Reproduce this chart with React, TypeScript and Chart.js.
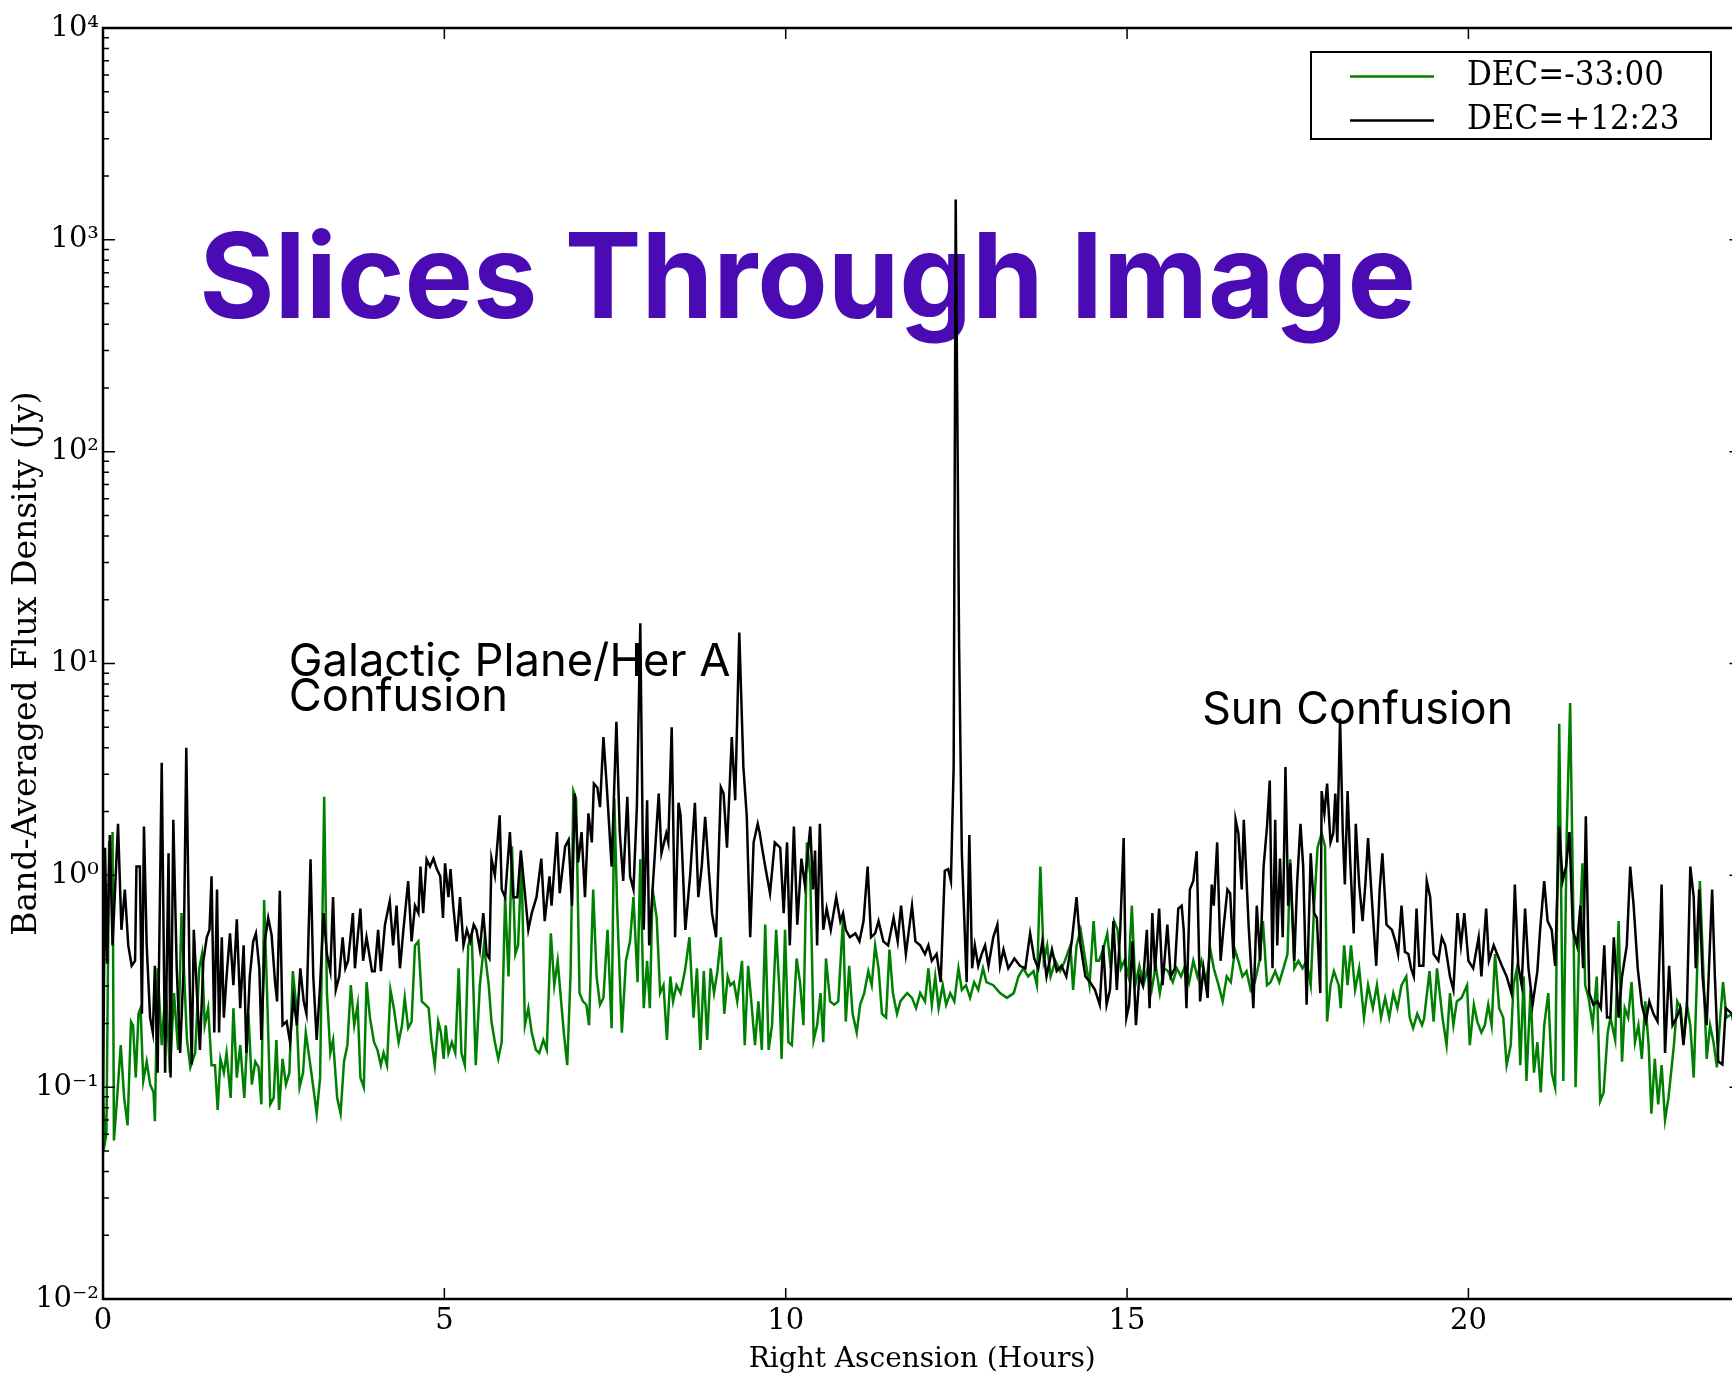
import React, { useEffect, useRef } from 'react';
import { Chart, registerables } from 'chart.js';

Chart.register(...registerables);

// ---------------- data ----------------
const seriesLabels = ['DEC=-33:00', 'DEC=+12:23'];
const seriesColors = ['#008000', '#000000'];

const xTickValues = [0, 5, 10, 15, 20];
const yTickValues = [0.01, 0.1, 1, 10, 100, 1000, 10000];
const yTickLabels = ['10⁻²', '10⁻¹', '10⁰', '10¹', '10²', '10³', '10⁴'];

const titleText = 'Slices Through Image';
const xTitle = 'Right Ascension (Hours)';
const yTitle = 'Band-Averaged Flux Density (Jy)';

const noteGalactic = ['Galactic Plane/Her A', 'Confusion'];
const noteSun = ['Sun Confusion'];

// [RA hours, flux Jy]
const greenSlice: [number, number][] = [
  [0.00,0.09],[0.03,0.055],[0.05,0.06],[0.09,1.45],[0.12,0.9],[0.14,1.6],[0.16,0.056],[0.20,0.083],[0.26,0.158],[0.31,0.089],[0.36,0.066],[0.41,0.204],[0.44,0.196],[0.48,0.111],[0.52,0.222],[0.55,0.236],[0.59,0.107],[0.64,0.132],[0.69,0.103],[0.74,0.0945],[0.76,0.069],[0.80,0.364],[0.86,0.158],[0.92,0.303],[0.98,0.117],[1.04,0.278],[1.10,0.15],[1.15,0.663],[1.23,0.167],[1.28,0.124],[1.35,0.145],[1.41,0.364],[1.45,0.425],[1.49,0.196],[1.54,0.236],[1.59,0.127],[1.64,0.127],[1.68,0.078],[1.72,0.136],[1.77,0.117],[1.81,0.145],[1.87,0.089],[1.91,0.236],[1.96,0.111],[2.01,0.158],[2.07,0.089],[2.13,0.222],[2.18,0.103],[2.23,0.132],[2.28,0.124],[2.32,0.083],[2.36,0.765],[2.40,0.303],[2.45,0.083],[2.50,0.089],[2.54,0.167],[2.58,0.078],[2.63,0.136],[2.68,0.103],[2.73,0.117],[2.78,0.353],[2.83,0.245],[2.88,0.1],[2.93,0.117],[2.97,0.181],[3.03,0.132],[3.08,0.1],[3.13,0.075],[3.18,0.111],[3.24,2.35],[3.28,0.278],[3.33,0.145],[3.37,0.167],[3.43,0.089],[3.48,0.075],[3.53,0.132],[3.58,0.158],[3.63,0.303],[3.68,0.196],[3.73,0.245],[3.77,0.111],[3.82,0.1],[3.86,0.313],[3.91,0.213],[3.97,0.163],[4.02,0.15],[4.07,0.127],[4.11,0.145],[4.16,0.127],[4.21,0.288],[4.26,0.236],[4.33,0.163],[4.38,0.196],[4.42,0.264],[4.47,0.19],[4.52,0.204],[4.57,0.467],[4.62,0.488],[4.67,0.254],[4.72,0.245],[4.77,0.236],[4.81,0.167],[4.86,0.127],[4.91,0.204],[4.95,0.181],[4.99,0.136],[5.02,0.196],[5.06,0.145],[5.11,0.163],[5.16,0.145],[5.21,0.364],[5.25,0.145],[5.30,0.127],[5.35,0.467],[5.40,0.532],[5.46,0.127],[5.52,0.303],[5.58,0.467],[5.65,0.303],[5.69,0.204],[5.74,0.163],[5.79,0.136],[5.84,0.163],[5.89,0.789],[5.94,0.333],[5.99,1.37],[6.04,0.425],[6.08,0.467],[6.13,1.19],[6.18,0.196],[6.23,0.236],[6.28,0.181],[6.34,0.15],[6.39,0.145],[6.45,0.167],[6.50,0.15],[6.56,0.532],[6.61,0.303],[6.66,0.395],[6.70,0.278],[6.75,0.181],[6.80,0.127],[6.85,0.353],[6.89,2.5],[6.93,2.3],[6.98,0.278],[7.03,0.254],[7.08,0.245],[7.12,0.196],[7.18,0.857],[7.23,0.333],[7.28,0.245],[7.33,0.264],[7.39,0.553],[7.45,0.19],[7.49,2.3],[7.53,0.719],[7.60,0.181],[7.66,0.395],[7.72,0.488],[7.77,0.789],[7.83,0.313],[7.87,1.19],[7.92,0.236],[7.97,0.395],[8.01,0.236],[8.05,0.857],[8.11,0.63],[8.16,0.278],[8.21,0.303],[8.26,0.167],[8.31,0.333],[8.35,0.254],[8.40,0.303],[8.46,0.278],[8.53,0.364],[8.59,0.51],[8.65,0.213],[8.70,0.364],[8.75,0.15],[8.80,0.353],[8.85,0.167],[8.90,0.364],[8.95,0.278],[9.00,0.353],[9.05,0.51],[9.10,0.222],[9.15,0.333],[9.19,0.303],[9.24,0.313],[9.29,0.254],[9.36,0.395],[9.40,0.158],[9.45,0.374],[9.50,0.245],[9.55,0.158],[9.60,0.254],[9.65,0.15],[9.70,0.585],[9.75,0.15],[9.80,0.196],[9.86,0.553],[9.91,0.278],[9.94,0.136],[9.99,0.553],[10.04,0.163],[10.09,0.158],[10.16,0.405],[10.21,0.313],[10.26,0.196],[10.31,1.43],[10.36,1.0],[10.41,0.167],[10.46,0.196],[10.51,0.278],[10.55,0.163],[10.59,0.405],[10.65,0.254],[10.71,0.245],[10.77,0.254],[10.84,0.63],[10.88,0.204],[10.93,0.374],[10.98,0.222],[11.04,0.181],[11.09,0.245],[11.15,0.278],[11.21,0.353],[11.26,0.303],[11.31,0.467],[11.36,0.364],[11.41,0.222],[11.47,0.213],[11.52,0.446],[11.57,0.278],[11.63,0.222],[11.68,0.254],[11.72,0.264],[11.78,0.278],[11.85,0.264],[11.91,0.236],[11.97,0.278],[12.04,0.254],[12.09,0.364],[12.14,0.245],[12.19,0.333],[12.24,0.236],[12.30,0.303],[12.35,0.245],[12.41,0.278],[12.47,0.254],[12.53,0.364],[12.58,0.288],[12.64,0.303],[12.70,0.264],[12.76,0.313],[12.82,0.288],[12.89,0.364],[12.94,0.313],[13.04,0.303],[13.14,0.278],[13.24,0.264],[13.34,0.278],[13.41,0.333],[13.48,0.364],[13.55,0.333],[13.63,0.353],[13.68,0.303],[13.73,1.1],[13.78,0.395],[13.83,0.467],[13.88,0.333],[13.95,0.395],[14.02,0.353],[14.09,0.395],[14.17,0.467],[14.21,0.288],[14.26,0.467],[14.32,0.553],[14.39,0.395],[14.45,0.303],[14.51,0.608],[14.55,0.395],[14.59,0.395],[14.65,0.446],[14.71,0.532],[14.76,0.364],[14.81,0.608],[14.86,0.553],[14.91,0.364],[14.96,0.395],[15.02,0.333],[15.07,0.719],[15.12,0.303],[15.18,0.374],[15.24,0.303],[15.30,0.364],[15.36,0.288],[15.42,0.374],[15.48,0.278],[15.54,0.364],[15.60,0.353],[15.67,0.313],[15.73,0.364],[15.79,0.333],[15.85,0.374],[15.91,0.313],[15.97,0.395],[16.03,0.333],[16.09,0.395],[16.16,0.313],[16.22,0.446],[16.27,0.364],[16.34,0.303],[16.40,0.254],[16.46,0.333],[16.52,0.313],[16.58,0.446],[16.63,0.395],[16.69,0.333],[16.75,0.353],[16.81,0.288],[16.87,0.313],[16.94,0.395],[16.99,0.608],[17.05,0.303],[17.10,0.313],[17.17,0.353],[17.23,0.313],[17.29,0.364],[17.35,0.425],[17.39,1.19],[17.45,0.364],[17.51,0.395],[17.57,0.364],[17.63,0.395],[17.69,0.303],[17.74,0.719],[17.79,1.35],[17.85,1.58],[17.90,1.37],[17.93,0.204],[17.98,0.303],[18.03,0.353],[18.10,0.303],[18.13,0.236],[18.18,0.467],[18.23,0.303],[18.28,0.467],[18.34,0.288],[18.40,0.364],[18.47,0.213],[18.53,0.303],[18.60,0.236],[18.66,0.303],[18.72,0.213],[18.78,0.264],[18.84,0.213],[18.90,0.278],[18.96,0.236],[19.02,0.303],[19.09,0.333],[19.14,0.213],[19.19,0.19],[19.25,0.222],[19.32,0.196],[19.35,0.21],[19.43,0.353],[19.49,0.204],[19.54,0.364],[19.62,0.213],[19.68,0.158],[19.73,0.278],[19.78,0.196],[19.83,0.254],[19.90,0.264],[19.98,0.303],[20.02,0.158],[20.08,0.245],[20.13,0.204],[20.19,0.181],[20.24,0.196],[20.29,0.245],[20.34,0.196],[20.39,0.425],[20.45,0.236],[20.51,0.213],[20.56,0.127],[20.62,0.158],[20.66,0.303],[20.71,0.364],[20.76,0.127],[20.81,0.333],[20.85,0.107],[20.91,0.288],[20.96,0.117],[21.01,0.163],[21.06,0.0945],[21.11,0.196],[21.17,0.278],[21.22,0.117],[21.27,0.1],[21.33,5.2],[21.39,0.107],[21.44,1.58],[21.49,6.5],[21.54,0.553],[21.57,0.1],[21.62,0.467],[21.67,1.14],[21.71,0.303],[21.76,0.264],[21.82,0.196],[21.88,0.333],[21.93,0.086],[21.98,0.0945],[22.04,0.181],[22.08,0.213],[22.15,0.167],[22.20,0.608],[22.25,0.132],[22.29,0.236],[22.34,0.213],[22.39,0.313],[22.44,0.163],[22.49,0.196],[22.54,0.136],[22.59,0.254],[22.64,0.158],[22.68,0.075],[22.73,0.136],[22.78,0.083],[22.83,0.127],[22.88,0.07],[22.93,0.089],[22.98,0.127],[23.01,0.158],[23.06,0.254],[23.11,0.236],[23.15,0.163],[23.20,0.245],[23.25,0.196],[23.30,0.111],[23.34,0.278],[23.39,0.94],[23.44,0.364],[23.49,0.136],[23.54,0.196],[23.59,0.163],[23.64,0.124],[23.68,0.196],[23.73,0.313],[23.78,0.213],[23.86,0.222],[23.95,0.19]
];

const blackSlice: [number, number][] = [
  [0.00,0.08],[0.03,1.35],[0.06,0.383],[0.10,1.55],[0.14,0.467],[0.22,1.75],[0.27,0.553],[0.32,0.857],[0.37,0.467],[0.42,0.374],[0.47,0.395],[0.49,1.10],[0.54,1.10],[0.57,0.222],[0.60,1.70],[0.64,0.467],[0.69,0.213],[0.73,0.181],[0.76,0.374],[0.80,0.117],[0.86,3.4],[0.91,0.117],[0.96,1.27],[0.99,0.111],[1.03,1.83],[1.08,0.364],[1.13,0.145],[1.18,0.364],[1.22,4.0],[1.27,0.303],[1.30,0.128],[1.33,0.553],[1.37,0.303],[1.42,0.15],[1.47,0.395],[1.52,0.51],[1.56,0.553],[1.59,0.99],[1.63,0.181],[1.67,0.857],[1.70,0.181],[1.74,0.51],[1.77,0.213],[1.81,0.333],[1.86,0.532],[1.91,0.303],[1.96,0.62],[2.01,0.236],[2.06,0.467],[2.10,0.145],[2.15,0.333],[2.20,0.488],[2.24,0.532],[2.29,0.364],[2.32,0.167],[2.37,0.488],[2.42,0.63],[2.47,0.522],[2.52,0.313],[2.55,0.254],[2.59,0.846],[2.63,0.196],[2.69,0.204],[2.74,0.163],[2.79,0.264],[2.84,0.196],[2.89,0.364],[2.94,0.254],[2.98,0.222],[3.04,1.19],[3.08,0.333],[3.13,0.167],[3.18,0.303],[3.23,0.663],[3.28,0.425],[3.33,0.353],[3.37,0.789],[3.41,0.288],[3.46,0.333],[3.51,0.51],[3.55,0.364],[3.59,0.395],[3.66,0.663],[3.69,0.364],[3.73,0.51],[3.77,0.697],[3.81,0.395],[3.86,0.51],[3.94,0.353],[3.98,0.353],[4.03,0.553],[4.07,0.353],[4.13,0.585],[4.20,0.754],[4.25,0.467],[4.30,0.719],[4.35,0.364],[4.40,0.553],[4.47,0.94],[4.52,0.488],[4.57,0.719],[4.62,0.663],[4.65,1.10],[4.69,0.663],[4.74,1.19],[4.79,1.10],[4.84,1.20],[4.89,1.07],[4.94,0.99],[4.98,0.63],[5.01,1.14],[5.06,0.789],[5.09,1.07],[5.13,0.719],[5.18,0.488],[5.23,0.789],[5.28,0.467],[5.33,0.553],[5.38,0.488],[5.43,0.585],[5.47,0.553],[5.52,0.446],[5.57,0.663],[5.62,0.425],[5.66,0.405],[5.69,1.20],[5.74,1.0],[5.81,1.92],[5.84,0.857],[5.89,0.789],[5.96,1.60],[6.01,0.789],[6.07,0.789],[6.12,1.31],[6.18,0.823],[6.23,0.553],[6.28,0.663],[6.35,0.789],[6.42,1.20],[6.47,0.608],[6.54,0.99],[6.57,0.719],[6.65,1.60],[6.69,0.823],[6.77,1.37],[6.82,1.47],[6.87,0.719],[6.91,2.43],[6.96,1.15],[7.01,1.60],[7.06,0.789],[7.11,1.96],[7.16,1.43],[7.19,2.71],[7.24,2.60],[7.28,2.10],[7.33,4.5],[7.38,2.60],[7.45,1.10],[7.52,5.3],[7.57,1.58],[7.62,0.94],[7.68,2.35],[7.72,0.99],[7.77,0.857],[7.82,2.10],[7.87,15.5],[7.92,0.553],[7.97,2.26],[8.00,0.467],[8.05,0.857],[8.14,2.43],[8.18,1.27],[8.25,1.58],[8.28,1.43],[8.33,5.0],[8.38,0.51],[8.43,2.20],[8.46,1.92],[8.53,0.553],[8.60,1.0],[8.67,2.20],[8.72,0.789],[8.77,1.10],[8.82,1.89],[8.87,1.10],[8.92,0.663],[8.98,0.51],[9.05,2.6],[9.09,2.43],[9.14,1.35],[9.21,4.5],[9.26,2.26],[9.32,14.0],[9.38,3.25],[9.43,1.89],[9.48,0.51],[9.53,1.43],[9.59,1.75],[9.62,1.58],[9.65,1.37],[9.70,1.10],[9.77,0.823],[9.84,1.43],[9.92,1.35],[9.97,0.663],[10.02,1.43],[10.06,0.467],[10.12,1.70],[10.17,0.585],[10.23,1.20],[10.28,0.905],[10.36,1.70],[10.40,0.857],[10.43,1.31],[10.46,0.467],[10.50,1.75],[10.55,0.553],[10.60,0.697],[10.66,0.553],[10.74,0.789],[10.80,0.608],[10.84,0.663],[10.88,0.553],[10.94,0.51],[11.02,0.532],[11.08,0.488],[11.14,0.608],[11.20,1.10],[11.25,0.51],[11.31,0.532],[11.36,0.608],[11.43,0.488],[11.50,0.467],[11.58,0.63],[11.64,0.488],[11.69,0.719],[11.76,0.425],[11.85,0.719],[11.90,0.488],[11.97,0.467],[12.04,0.425],[12.09,0.467],[12.14,0.395],[12.21,0.425],[12.27,0.313],[12.33,1.05],[12.38,1.07],[12.42,0.94],[12.46,3.25],[12.49,1550],[12.54,12],[12.58,1.27],[12.65,0.313],[12.69,1.55],[12.73,0.364],[12.77,0.467],[12.82,0.374],[12.87,0.425],[12.92,0.467],[12.97,0.374],[13.04,0.51],[13.10,0.585],[13.14,0.374],[13.19,0.446],[13.26,0.364],[13.35,0.405],[13.43,0.374],[13.51,0.364],[13.58,0.532],[13.64,0.405],[13.70,0.364],[13.76,0.488],[13.82,0.333],[13.90,0.446],[13.97,0.353],[14.04,0.374],[14.11,0.333],[14.19,0.488],[14.26,0.789],[14.31,0.488],[14.39,0.333],[14.46,0.313],[14.53,0.288],[14.60,0.245],[14.65,0.467],[14.70,0.245],[14.75,0.288],[14.80,0.608],[14.85,0.288],[14.90,0.553],[14.95,1.5],[14.99,0.213],[15.03,0.245],[15.08,0.488],[15.13,0.196],[15.18,0.333],[15.23,0.303],[15.29,0.553],[15.33,0.236],[15.37,0.663],[15.41,0.353],[15.47,0.697],[15.52,0.303],[15.59,0.585],[15.64,0.333],[15.70,0.364],[15.75,0.697],[15.80,0.719],[15.83,0.553],[15.87,0.236],[15.92,0.857],[15.97,0.94],[16.02,1.3],[16.07,0.254],[16.12,0.364],[16.18,0.264],[16.24,0.905],[16.27,0.719],[16.32,1.43],[16.37,0.395],[16.41,0.553],[16.47,0.857],[16.51,0.823],[16.56,0.405],[16.59,1.83],[16.63,1.58],[16.68,0.857],[16.71,1.83],[16.78,0.585],[16.85,0.236],[16.90,0.719],[16.95,0.395],[17.00,1.10],[17.05,1.70],[17.09,2.8],[17.13,0.364],[17.17,1.83],[17.20,0.467],[17.24,1.20],[17.28,0.51],[17.32,3.25],[17.36,0.719],[17.39,1.14],[17.45,0.395],[17.49,0.905],[17.54,1.75],[17.58,1.10],[17.63,0.245],[17.69,1.27],[17.74,0.663],[17.78,0.63],[17.83,0.278],[17.85,2.5],[17.89,1.96],[17.93,2.71],[17.98,1.43],[18.02,1.58],[18.05,2.43],[18.08,1.43],[18.12,5.5],[18.16,1.58],[18.19,0.905],[18.23,2.5],[18.27,1.14],[18.32,0.532],[18.35,1.75],[18.40,0.905],[18.45,0.608],[18.49,0.905],[18.53,1.5],[18.58,0.823],[18.65,0.374],[18.70,0.857],[18.74,1.27],[18.80,0.585],[18.88,0.553],[18.93,0.488],[18.97,0.425],[19.02,0.719],[19.07,0.435],[19.12,0.425],[19.16,0.364],[19.20,0.333],[19.24,0.697],[19.28,0.374],[19.34,0.374],[19.39,0.94],[19.44,0.789],[19.49,0.425],[19.56,0.395],[19.61,0.51],[19.66,0.467],[19.73,0.333],[19.78,0.288],[19.84,0.663],[19.89,0.467],[19.94,0.663],[20.00,0.395],[20.07,0.364],[20.15,0.51],[20.19,0.333],[20.26,0.697],[20.30,0.395],[20.37,0.467],[20.42,0.425],[20.49,0.374],[20.56,0.333],[20.63,0.278],[20.68,0.905],[20.73,0.374],[20.78,0.303],[20.83,0.697],[20.88,0.364],[20.94,0.245],[21.01,0.353],[21.05,0.553],[21.11,0.94],[21.16,0.608],[21.22,0.553],[21.27,0.374],[21.33,1.7],[21.38,0.94],[21.43,1.10],[21.48,1.60],[21.53,0.553],[21.59,0.467],[21.64,0.719],[21.68,0.364],[21.72,1.9],[21.77,0.278],[21.83,0.245],[21.89,0.254],[21.94,0.236],[21.99,0.467],[22.03,0.213],[22.08,0.213],[22.13,0.51],[22.20,0.213],[22.25,0.333],[22.32,0.467],[22.37,1.10],[22.42,0.719],[22.48,0.364],[22.54,0.245],[22.60,0.204],[22.65,0.254],[22.71,0.222],[22.77,0.204],[22.83,0.905],[22.88,0.145],[22.94,0.374],[22.99,0.196],[23.05,0.213],[23.10,0.236],[23.15,0.158],[23.20,0.236],[23.25,1.10],[23.30,0.789],[23.33,0.364],[23.38,0.857],[23.43,0.333],[23.49,0.196],[23.57,0.857],[23.61,0.333],[23.66,0.132],[23.72,0.128],[23.77,0.236],[23.86,0.222],[23.95,0.15]
];

// ---------------- layout / style ----------------
const CANVAS_W = 1750;
const CANVAS_H = 1379;
const SERIF = '"DejaVu Serif", "Liberation Serif", serif';
const DISPLAY = 'Inter, "Noto Sans", sans-serif';

function stretchedText(ctx: CanvasRenderingContext2D, text: string, x: number, y: number, sy: number) {
  ctx.save();
  ctx.translate(x, y);
  ctx.scale(1, sy);
  ctx.fillText(text, 0, 0);
  ctx.restore();
}

// sets a font so that `ref` spans targetW px; returns vertical stretch giving capital height targetCap
function fitFont(ctx: CanvasRenderingContext2D, ref: string, weight: string, family: string, targetW: number, targetCap: number) {
  ctx.font = `${weight} 100px ${family}`;
  const w = ctx.measureText(ref).width;
  const size = (100 * targetW) / w;
  ctx.font = `${weight} ${size}px ${family}`;
  const cap = ctx.measureText('H').actualBoundingBoxAscent || size * 0.72;
  return targetCap / cap;
}

const textPlugin = {
  id: 'sliceTexts',
  beforeDatasetsDraw(chart: any) {
    const { ctx, scales } = chart;
    const x = scales.x, y = scales.y;
    ctx.save();
    ctx.textAlign = 'left';
    ctx.textBaseline = 'alphabetic';
    // big title
    ctx.fillStyle = '#4a0ab4';
    let sy = fitFont(ctx, titleText, 'bold', DISPLAY, 1217, 86);
    stretchedText(ctx, titleText, x.getPixelForValue(1.41), y.getPixelForValue(427), sy);
    // annotations
    ctx.fillStyle = '#000';
    sy = fitFont(ctx, noteGalactic[0], 'normal', DISPLAY, 442, 33);
    const gx = x.getPixelForValue(2.72);
    const gy = y.getPixelForValue(8.7);
    noteGalactic.forEach((t, i) => stretchedText(ctx, t, gx, gy + i * 34.5, sy));
    sy = fitFont(ctx, noteSun[0], 'normal', DISPLAY, 311, 33);
    const sx = x.getPixelForValue(16.1);
    const syy = y.getPixelForValue(5.2);
    noteSun.forEach((t, i) => stretchedText(ctx, t, sx, syy + i * 34.5, sy));
    ctx.restore();
  },
  afterDatasetsDraw(chart: any) {
    const { ctx, chartArea: a, scales } = chart;
    const x = scales.x, y = scales.y;
    ctx.save();
    ctx.strokeStyle = '#000';
    // inward tick marks
    ctx.lineWidth = 1.5;
    ctx.beginPath();
    for (let k = -2; k <= 4; k++) {
      const d = Math.pow(10, k);
      const py = y.getPixelForValue(d);
      ctx.moveTo(a.left, py); ctx.lineTo(a.left + 12, py);
      ctx.moveTo(a.right, py); ctx.lineTo(a.right - 12, py);
      if (k < 4) {
        for (let m = 2; m <= 9; m++) {
          const pm = y.getPixelForValue(m * d);
          ctx.moveTo(a.left, pm); ctx.lineTo(a.left + 6, pm);
          ctx.moveTo(a.right, pm); ctx.lineTo(a.right - 6, pm);
        }
      }
    }
    xTickValues.forEach((v) => {
      const px = x.getPixelForValue(v);
      ctx.moveTo(px, a.bottom); ctx.lineTo(px, a.bottom - 11);
      ctx.moveTo(px, a.top); ctx.lineTo(px, a.top + 11);
    });
    ctx.stroke();
    // frame
    ctx.lineWidth = 2.5;
    ctx.strokeRect(a.left, a.top, a.right - a.left, a.bottom - a.top);

    // legend
    const bw = 400, bh = 87;
    const bx = a.right - 30.5 - bw;
    const by = a.top + 24;
    ctx.fillStyle = '#fff';
    ctx.fillRect(bx, by, bw, bh);
    ctx.lineWidth = 2;
    ctx.strokeRect(bx, by, bw, bh);
    ctx.font = `31px ${SERIF}`;
    ctx.textBaseline = 'middle';
    ctx.textAlign = 'left';
    chart.data.datasets.forEach((ds: any, i: number) => {
      const ry = by + 24.5 + i * 44;
      ctx.strokeStyle = ds.borderColor;
      ctx.lineWidth = 2.4;
      ctx.beginPath();
      ctx.moveTo(bx + 39, ry); ctx.lineTo(bx + 123, ry);
      ctx.stroke();
      ctx.fillStyle = '#000';
      stretchedText(ctx, ds.label, bx + 156, ry, 1.1);
    });
    ctx.restore();
  },
};

export default function App() {
  const ref = useRef<HTMLCanvasElement>(null);
  useEffect(() => {
    const canvas = ref.current!;
    const chart = new Chart(canvas, {
      type: 'line',
      data: {
        datasets: [
          {
            label: seriesLabels[0],
            data: greenSlice.map(([ra, f]) => ({ x: ra, y: f })),
            borderColor: seriesColors[0],
            borderWidth: 2.5,
            pointRadius: 0,
            tension: 0,
            order: 1,
          },
          {
            label: seriesLabels[1],
            data: blackSlice.map(([ra, f]) => ({ x: ra, y: f })),
            borderColor: seriesColors[1],
            borderWidth: 2.5,
            pointRadius: 0,
            tension: 0,
            order: 0,
          },
        ],
      },
      options: {
        animation: false,
        responsive: false,
        maintainAspectRatio: false,
        layout: { padding: { top: 28, right: CANVAS_W - 1741.5, bottom: 0, left: 0 } },
        plugins: { legend: { display: false }, tooltip: { enabled: false }, title: { display: false } },
        scales: {
          x: {
            type: 'linear',
            min: 0,
            max: 24,
            grid: { display: false, drawTicks: false },
            border: { display: false },
            afterBuildTicks: (s: any) => { s.ticks = xTickValues.map((v) => ({ value: v })); },
            afterFit: (s: any) => { s.height = 80; },
            ticks: {
              color: '#000',
              padding: 5,
              maxRotation: 0,
              font: { family: SERIF, size: 29 },
              callback: (v: any) => String(v),
            },
            title: {
              display: true,
              text: xTitle,
              color: '#000',
              font: { family: SERIF, size: 28 },
              padding: { top: 0, bottom: 2 },
            },
          },
          y: {
            type: 'logarithmic',
            min: 0.01,
            max: 10000,
            grid: { display: false, drawTicks: false },
            border: { display: false },
            afterBuildTicks: (s: any) => { s.ticks = yTickValues.map((v) => ({ value: v })); },
            afterFit: (s: any) => { s.width = 103; },
            ticks: {
              color: '#000',
              padding: 4,
              font: { family: SERIF, size: 29 },
              callback: (v: any) => {
                const i = yTickValues.findIndex((t) => Math.abs(Math.log10(t) - Math.log10(v)) < 1e-6);
                return i >= 0 ? yTickLabels[i] : '';
              },
            },
            title: {
              display: true,
              text: yTitle,
              color: '#000',
              font: { family: SERIF, size: 33 },
              padding: { top: 8, bottom: 0 },
            },
          },
        },
      },
      plugins: [textPlugin],
    } as any);
    return () => chart.destroy();
  }, []);

  return (
    <div
      style={{
        position: 'fixed',
        left: 0,
        top: 0,
        width: 1732,
        height: 1379,
        overflow: 'hidden',
        background: '#fff',
      }}
    >
      <canvas ref={ref} width={CANVAS_W} height={CANVAS_H} style={{ display: 'block', width: CANVAS_W, height: CANVAS_H }} />
    </div>
  );
}
